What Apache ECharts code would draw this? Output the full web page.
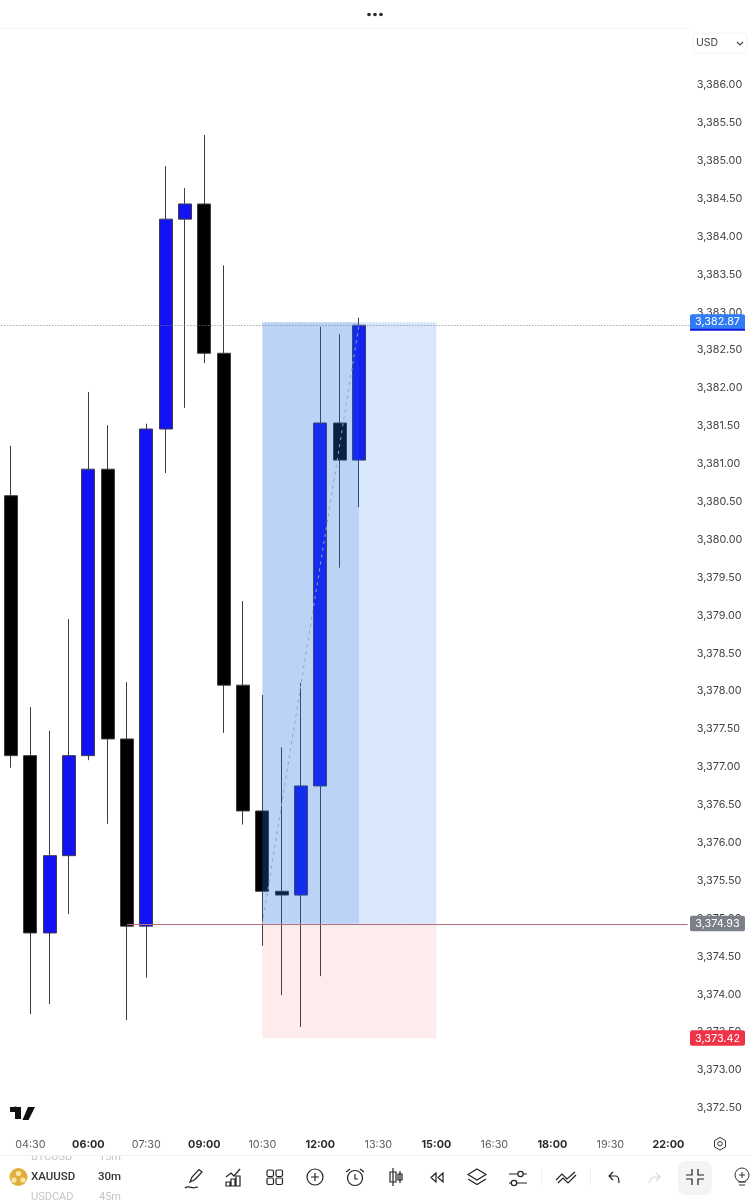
<!DOCTYPE html>
<html><head><meta charset="utf-8">
<style>html,body{margin:0;padding:0;background:#fff}#c{width:750px;height:1200px}</style>
<script src="https://cdn.jsdelivr.net/npm/echarts@6/dist/echarts.min.js"></script>
</head><body><div id="c"></div>
<script>
const timeLabels = ['04:00','04:30','05:00','05:30','06:00','06:30','07:00','07:30','08:00','08:30','09:00','09:30','10:00','10:30','11:00','11:30','12:00','12:30','13:00','13:30','14:00','14:30','15:00','15:30','16:00','16:30','17:00','17:30','18:00','18:30','19:00','19:30','20:00','20:30','22:00','22:30'];
const opens  = [3380.58,3377.15,3374.81,3375.83,3377.15,3380.93,3377.37,3374.90,3381.46,3384.23,3384.43,3382.46,3378.08,3376.42,3375.36,3375.31,3376.75,3381.54,3381.05];
const closes = [3377.15,3374.81,3375.83,3377.15,3380.93,3377.37,3374.90,3381.46,3384.23,3384.43,3382.46,3378.08,3376.42,3375.36,3375.31,3376.75,3381.54,3381.05,3382.83];
const lows   = [3376.99,3373.74,3373.87,3375.06,3377.09,3376.25,3373.66,3374.22,3380.88,3381.74,3382.33,3377.45,3376.24,3374.64,3373.99,3373.57,3374.24,3379.63,3380.43];
const highs  = [3381.24,3377.79,3377.48,3378.95,3381.95,3381.51,3378.12,3381.53,3384.93,3384.64,3385.34,3383.62,3379.19,3377.95,3377.26,3378.11,3382.81,3382.71,3382.93];
const lastPrice = 3382.87, priceLine = 3382.83, entryPrice = 3374.93, stopPrice = 3373.42;
const entryTime = '10:30', nowTime = '13:00', endTime = '15:00', entryLineStart = '07:00', lastTime = '22:30';
const candles = opens.map((o,i)=>[o,closes[i],lows[i],highs[i]]);
const fmtPrice = v => v.toLocaleString('en-US',{minimumFractionDigits:2,maximumFractionDigits:2});
const FONT = 'Inter, "Noto Sans", sans-serif';

const chart = echarts.init(document.getElementById('c'), null, {width:750,height:1200});
chart.setOption({
  animation:false,
  backgroundColor:'#fff',
  grid:{left:1.33,width:696,top:85,height:1023},
  xAxis:{type:'category',data:timeLabels,boundaryGap:true,offset:27,
    axisLine:{show:false},axisTick:{show:false},splitLine:{show:false},
    axisLabel:{interval:i=>(i-1)%3===0,margin:4,fontFamily:FONT,hideOverlap:false,
      formatter:v=>v.endsWith(':00')?'{b|'+v+'}':'{n|'+v+'}',
      rich:{b:{fontSize:10.8,fontWeight:700,color:'#2a2a2a',fontFamily:FONT},n:{fontSize:10.8,color:'#5f5f5f',fontFamily:FONT}}}},
  yAxis:{type:'value',position:'right',min:3372.5,max:3386,interval:0.5,scale:true,
    axisLine:{show:false},axisTick:{show:false},splitLine:{show:false},
    axisLabel:{margin:-0.5,fontSize:10.8,color:'#444',fontFamily:FONT,align:'left',padding:[4,0,0,0],showMinLabel:true,showMaxLabel:true,formatter:fmtPrice}},
  series:[
    {type:'candlestick',data:candles,barWidth:13.5,z:2,silent:true,
      itemStyle:{color:'#1212f2',color0:'#000',borderColor:'#3d3d52',borderColor0:'#3d3d3d',borderWidth:1}},
    {type:'line',data:[],silent:true,z:3,
      markArea:{silent:true,z:3,data:[
        [{xAxis:entryTime,yAxis:lastPrice,itemStyle:{color:'rgba(30,110,240,0.17)'}},{xAxis:endTime,yAxis:entryPrice}],
        [{xAxis:entryTime,yAxis:lastPrice,itemStyle:{color:'rgba(30,110,220,0.16)'}},{xAxis:nowTime,yAxis:entryPrice}],
        [{xAxis:entryTime,yAxis:entryPrice,itemStyle:{color:'rgba(242,54,69,0.10)'}},{xAxis:endTime,yAxis:stopPrice}]
      ]},
      markLine:{silent:true,z:5,symbol:'none',label:{show:false},data:[
        {yAxis:priceLine,lineStyle:{color:'#7d8590',type:[1,2],width:1}},
        [{coord:[entryLineStart,entryPrice],lineStyle:{color:'#b5707c',type:'solid',width:1}},{coord:[lastTime,entryPrice]}],
        [{coord:[entryTime,entryPrice],lineStyle:{color:'#93a3b8',type:[3,4],width:1}},{coord:[nowTime,priceLine]}]
      ]}}
  ]
});

const yPx = v => chart.convertToPixel({yAxisIndex:0},v);
const txt=(x,y,t,o={})=>({type:'text',x,y,z:o.z||20,style:Object.assign({text:t,fontFamily:FONT,fontSize:11,fill:'#333',align:'left',verticalAlign:'middle'},o)});
const box=(y,label,fill)=>[
  {type:'rect',z:18,shape:{x:690,y:y-8,width:55,height:15.5,r:2},style:{fill}},
  txt(717.5,y,label,{align:'center',fill:'#fff',fontSize:10.8,z:19})
];
let icN=0;
const ic=(cx,cy,d,o={})=>{
  const name='tbIcon'+(icN++);
  echarts.graphic.registerShape(name,echarts.graphic.extendPath(d));
  return {type:name,x:cx,y:cy,z:20,style:Object.assign({fill:'none',stroke:'#222',lineWidth:1.2},o)};
};
const circ=(x,y,r,o={})=>({type:'circle',z:20,shape:{cx:x,cy:y,r},style:Object.assign({fill:'#2a2a2a'},o)});
const yl=yPx(lastPrice), ye=yPx(entryPrice), ys=yPx(stopPrice);
const GHOST={fontSize:11,fill:'#c6c6c6',z:12,fontFamily:'Roboto, sans-serif'};
const ROW={fontSize:11.5,fontWeight:500,fill:'#333',fontFamily:'Roboto, sans-serif'};

const graphic=[
  circ(369,14.5,1.8),circ(375,14.5,1.8),circ(381,14.5,1.8),
  {type:'rect',z:10,shape:{x:0,y:28,width:690,height:1},style:{fill:'#f5f5f5'}},
  {type:'rect',z:10,shape:{x:693,y:33,width:54,height:20,r:3},style:{fill:'#fff',stroke:'#f3f3f3'}},
  txt(696,43,'USD',{fontSize:10.5,fill:'#444'}),
  ic(737,42,'M0 0L3 3L6 0',{stroke:'#444'}),
  ...box(yl,fmtPrice(lastPrice),'#2f7cf6'),
  {type:'rect',z:19,shape:{x:690,y:yl+6.5,width:55,height:2},style:{fill:'#1416e0'}},
  ...box(ye,fmtPrice(entryPrice),'#7b7f87'),
  ...box(ys,fmtPrice(stopPrice),'#ef3347'),
  // logo
  ic(10,1107,'M0 0H11V12H5V5H0ZM18 0H25L18.5 13H12.5Z',{fill:'#111',stroke:'none'}),
  circ(15.5,1109,2.6,{fill:'#111'}),
  // gear
  ic(714.5,1137.5,'M5.5 0L11 3V9.5L5.5 12.5L0 9.5V3Z',{stroke:'#333',lineWidth:1}),
  circ(720,1143.7,2.2,{fill:'none',stroke:'#333',lineWidth:1}),
  // ghost list rows, clipped by the white toolbar row
  txt(31,1157,'BTCUSD',GHOST),txt(99,1157,'15m',GHOST),
  txt(31,1197,'USDCAD',GHOST),txt(99,1197,'45m',GHOST),
  {type:'rect',z:13,shape:{x:0,y:1150,width:750,height:5},style:{fill:'#fff'}},
  {type:'rect',z:13,shape:{x:0,y:1161,width:750,height:31},style:{fill:'#fff'}},
  {type:'rect',z:14,shape:{x:0,y:1155,width:750,height:1},style:{fill:'#f0f0f0'}},
  // row
  circ(18.5,1177,9,{fill:'#e0ae3c'}),
  circ(18.5,1173.5,2.6,{fill:'#fbe6a8'}),circ(14,1180,2.6,{fill:'#fbe6a8'}),circ(23,1180,2.6,{fill:'#fbe6a8'}),
  txt(31,1177,'XAUUSD',ROW),
  txt(98,1177.5,'30m',ROW),
  // toolbar icons
  ic(185,1168,'M5 14L7 9L14 1.5L17 4L10 11.5L5 14ZM0 20C4 17 7 21 10 19.5C11 19 12 19 13 19.5'),
  ic(225,1168,'M1 9L6 5L9 8L15 1M1 18V14H5V18ZM6 18V11H10V18ZM11 18V8H15V18Z'),
  ...[[267,1170],[276,1170],[267,1178],[276,1178]].map(p=>({type:'rect',z:20,shape:{x:p[0],y:p[1],width:6.5,height:6.5,r:1.5},style:{fill:'none',stroke:'#222',lineWidth:1.2}})),
  circ(315,1177,8,{fill:'none',stroke:'#222',lineWidth:1.2}),
  ic(310,1172,'M5 1V9M1 5H9'),
  circ(355,1178,7.5,{fill:'none',stroke:'#222',lineWidth:1.2}),
  ic(346,1169,'M0 3L4 0M14 0L18 3M9 5V10H12'),
  ic(390,1168,'M3 0V18M0 4H6V14H0ZM10 3V15M8 6H12V12H8Z'),
  ic(430,1172,'M6 1L1 5.5L6 10ZM13 1L8 5.5L13 10Z'),
  ic(468,1169,'M9 0L18 5.5L9 11L0 5.5ZM0 10L9 15.5L18 10'),
  ic(509,1170,'M0 4H9M14 4H18M0 13H3M8 13H18'),
  circ(520.5,1174,2.7,{fill:'none',stroke:'#222',lineWidth:1.2}),
  circ(514,1183,2.7,{fill:'none',stroke:'#222',lineWidth:1.2}),
  ic(556,1171,'M0 9L6 3L11 8L19 1M2 12L7 7L12 12L20 4'),
  {type:'rect',z:20,shape:{x:541,y:1168,width:1,height:18},style:{fill:'#f0f0f0'}},
  {type:'rect',z:20,shape:{x:590,y:1168,width:1,height:18},style:{fill:'#f0f0f0'}},
  ic(608,1172,'M5 0L1 4L5 8M1 4H8C10 4 11 6 11 11'),
  ic(649,1173,'M7 0L11 4L7 8M11 4H5C2 5 1 7 0 10',{stroke:'#d8d8d8'}),
  {type:'rect',z:19,shape:{x:678,y:1161,width:34,height:34,r:8},style:{fill:'#f4f4f4'}},
  ic(686,1169,'M6 0V6H0M12 0V6H18M6 16V10H0M12 16V10H18'),
  circ(742,1175,7,{fill:'none',stroke:'#333',lineWidth:1}),
  ic(738,1171,'M4 1V7M1 4H7M0 11H8M1 14H7',{stroke:'#333',lineWidth:1})
];
chart.setOption({graphic:{elements:graphic}});
</script></body></html>
